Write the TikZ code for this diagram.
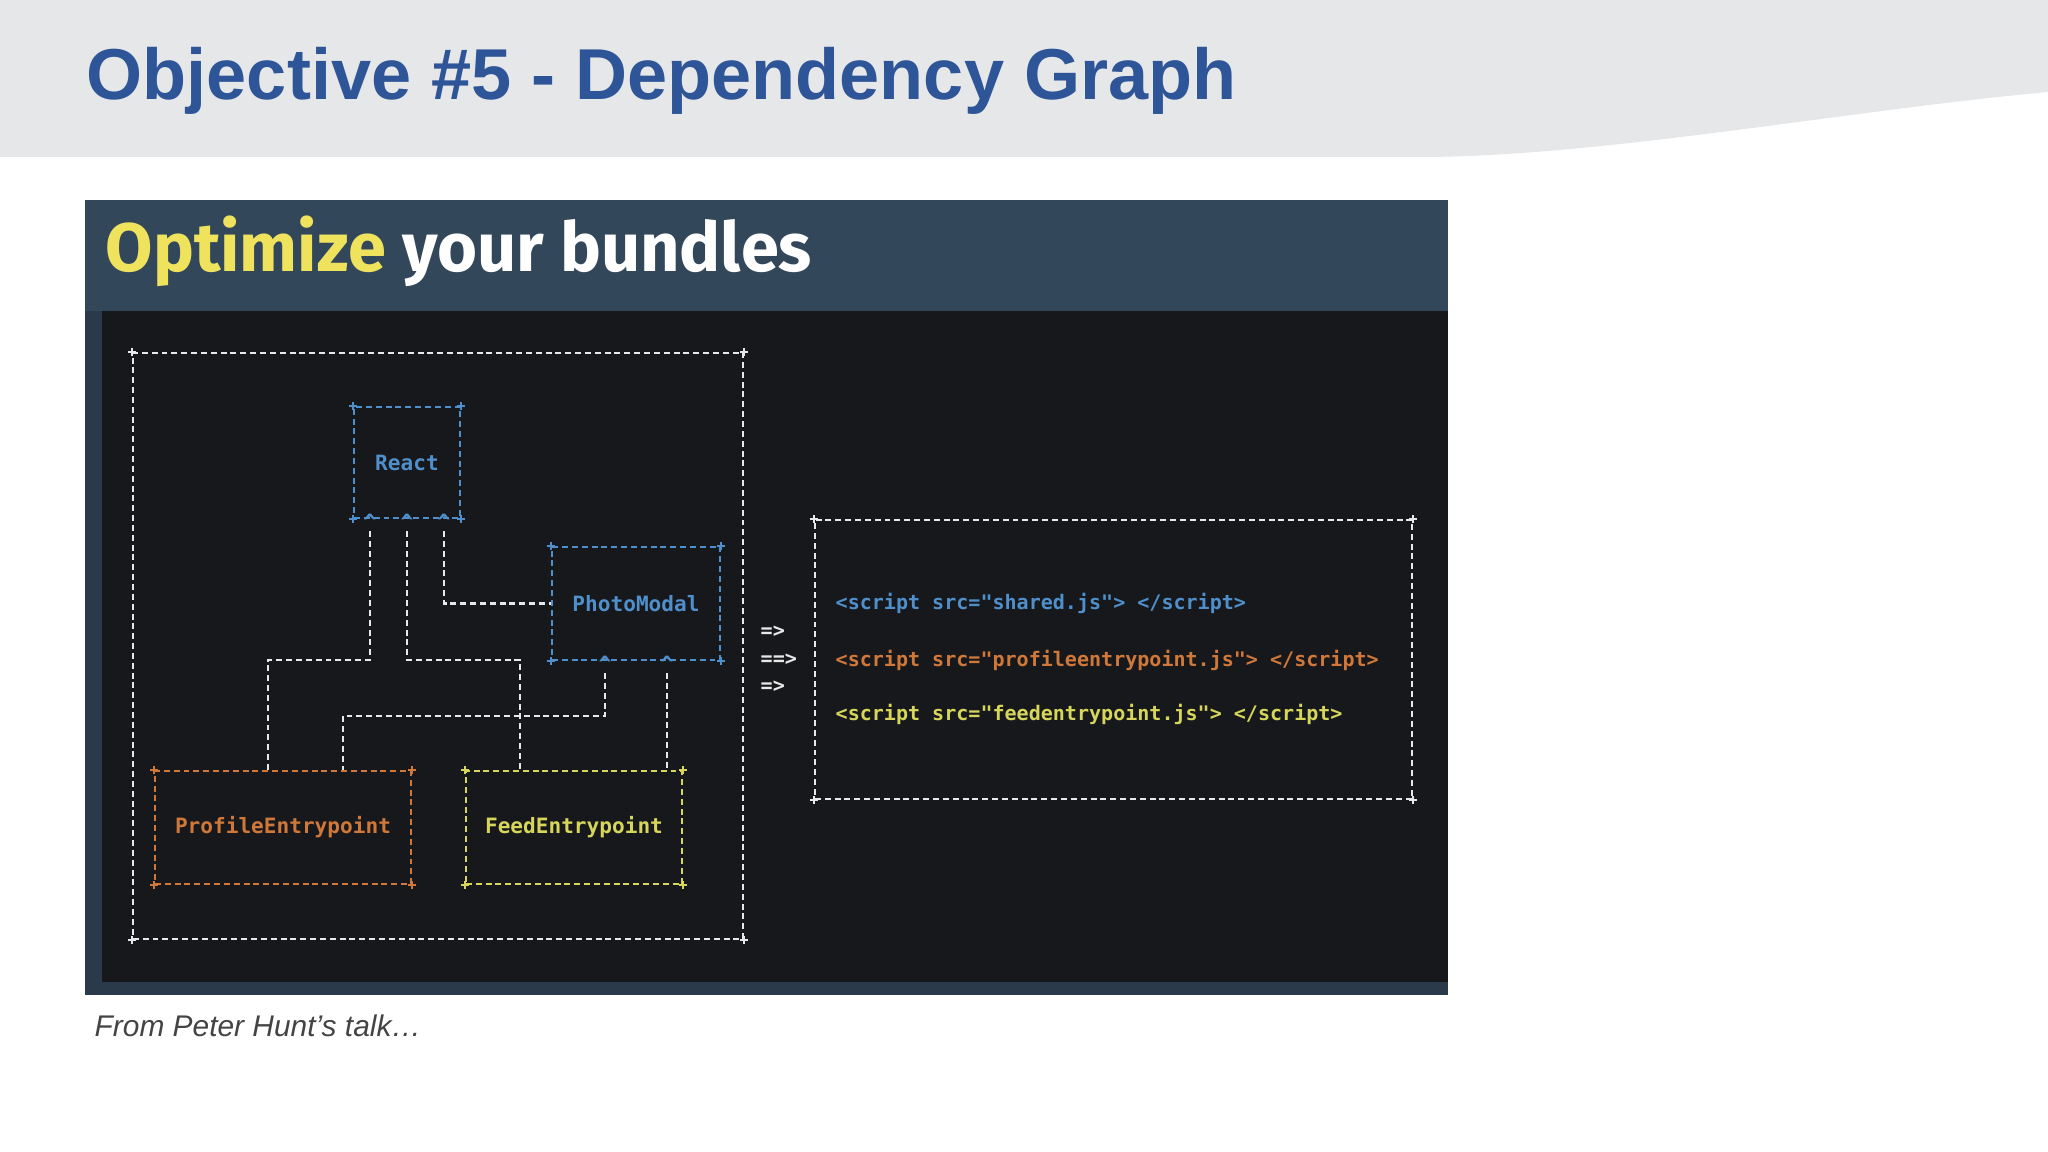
\documentclass[tikz,border=0pt]{standalone}
\usepackage{fontspec}
\setmainfont{Liberation Sans}
\newfontfamily\monof{DejaVu Sans Mono}
\newfontfamily\firaf{Fira Sans}
\definecolor{hdrgray}{HTML}{E6E7E9}
\definecolor{titleblue}{HTML}{2E5597}
\definecolor{slate}{HTML}{2B3A4A}
\definecolor{slatetop}{HTML}{33475B}
\definecolor{termbg}{HTML}{17181B}
\definecolor{cblue}{HTML}{4F8FCB}
\definecolor{corange}{HTML}{D0783A}
\definecolor{cyellow}{HTML}{D6D65A}
\definecolor{cwhite}{HTML}{E8E8E8}
\definecolor{optyellow}{HTML}{EFE35E}
\definecolor{capgray}{HTML}{444444}
\tikzset{
  dline/.style={line width=0.6pt, dash pattern=on 1.7pt off 1.1pt},
  abox/.style={draw=#1, dline, text=#1, font=\monof\bfseries\fontsize{6}{7}\selectfont, inner sep=0pt},
  conn/.style={cwhite, dline},
  codetxt/.style={anchor=west, font=\monof\bfseries\fontsize{5.7}{7}\selectfont, inner sep=0pt, text=#1},
}
\begin{document}
\begin{tikzpicture}[x=0.01cm,y=-0.01cm]
\useasboundingbox (0,0) rectangle (2048,1152);
\fill[white] (0,0) rectangle (2048,1152);
\fill[hdrgray] (0,0) -- (2048,0) -- (2048,92) .. controls (1850,110) and (1600,157) .. (1420,157) -- (0,157) -- cycle;
\node[anchor=base west, inner sep=0pt, text=titleblue, font=\bfseries\fontsize{20.5}{24}\selectfont] (title) at (86,100) {Objective \#5 - Dependency Graph};
% screenshot
\fill[slate] (85,200) rectangle (1448,995);
\fill[slatetop] (85,200) rectangle (1448,311);
\fill[termbg] (102,311) rectangle (1448,982);
\node[anchor=base west, inner sep=0pt, font=\firaf\bfseries\fontsize{19.5}{22}\selectfont] (opt) at (105,272) {\textcolor{optyellow}{Optimize} \textcolor{white}{your bundles}};
% boxes
\node[draw=cwhite, dline, minimum width=6.10cm, minimum height=5.86cm] (outer) at (438,646) {};
\node[draw=cwhite, dline, minimum width=5.97cm, minimum height=2.79cm] (right) at (1113.5,659.5) {};
\node[abox=cblue, minimum width=1.06cm, minimum height=1.11cm] (React) at (407,462.5) {React};
\node[abox=cblue, minimum width=1.68cm, minimum height=1.13cm] (Photo) at (636,603.5) {PhotoModal};
\node[abox=corange, minimum width=2.56cm, minimum height=1.13cm] (Profile) at (283,827.5) {ProfileEntrypoint};
\node[abox=cyellow, minimum width=2.16cm, minimum height=1.13cm] (Feed) at (574,827.5) {FeedEntrypoint};
% corner pluses
\foreach \n/\c in {outer/cwhite,right/cwhite,React/cblue,Photo/cblue,Profile/corange,Feed/cyellow}{
  \foreach \a in {north west,north east,south west,south east}{
    \draw[\c, line width=0.6pt] ([xshift=-0.04cm]\n.\a) -- ([xshift=0.04cm]\n.\a)
      ([yshift=-0.04cm]\n.\a) -- ([yshift=0.04cm]\n.\a);
  }
}
% carets
\foreach \dx in {-0.37,0,0.37}{\node[text=cblue, font=\monof\bfseries\fontsize{6}{7}\selectfont, inner sep=0pt] at ([xshift=\dx cm, yshift=-0.03cm]React.south) {\^{}};}
\foreach \dx in {-0.31,0.31}{\node[text=cblue, font=\monof\bfseries\fontsize{6}{7}\selectfont, inner sep=0pt] at ([xshift=\dx cm, yshift=-0.03cm]Photo.south) {\^{}};}
% connectors
\coordinate (j1) at (268,660);
\coordinate (j2) at (520,660);
\coordinate (j3) at (343,716);
\coordinate (p2) at ([xshift=0.31cm,yshift=-0.12cm]Photo.south);
\draw[conn] ([xshift=-0.37cm,yshift=-0.12cm]React.south) |- (j1) -- (Profile.north -| j1);
\draw[conn] ([yshift=-0.12cm]React.south) |- (j2) -- (Feed.north -| j2);
\draw[conn] ([xshift=0.37cm,yshift=-0.12cm]React.south) |- (Photo.west);
\draw[conn] ([xshift=-0.31cm,yshift=-0.12cm]Photo.south) |- (j3) -- (Profile.north -| j3);
\draw[conn] (p2) -- (Feed.north -| p2);
% arrows
\foreach \y/\t in {632/{=>},660/{==>},687/{=>}}{\node[anchor=west, inner sep=0pt, text=cwhite, font=\monof\bfseries\fontsize{5.7}{7}\selectfont] at (760,\y) {\t};}
% code
\node[codetxt=cblue] (s1) at (835,603) {<script src="shared.js"> </script>};
\node[codetxt=corange] (s2) at (835,660) {<script src="profileentrypoint.js"> </script>};
\node[codetxt=cyellow] (s3) at (835,714) {<script src="feedentrypoint.js"> </script>};
\node[anchor=base west, inner sep=0pt, text=capgray, font=\itshape\fontsize{8.5}{10}\selectfont] (cap) at (94,1036) {From Peter Hunt’s talk…};
\end{tikzpicture}
\end{document}
